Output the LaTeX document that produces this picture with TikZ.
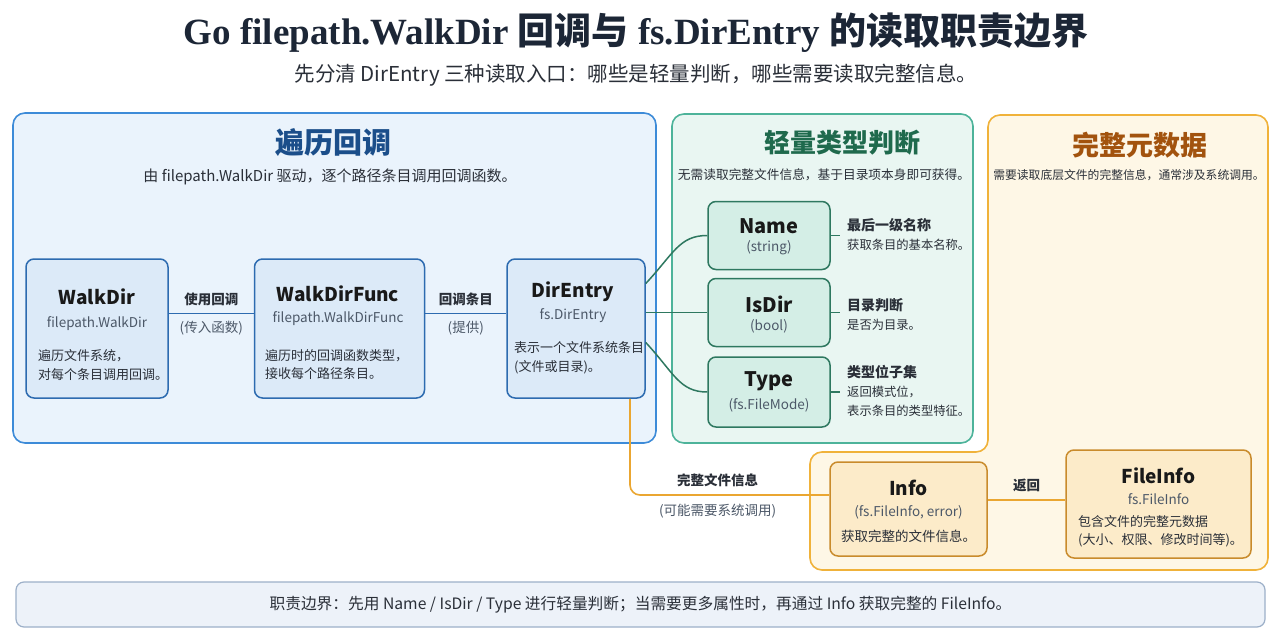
\documentclass[tikz,border=0pt]{standalone}
\usepackage{fontspec}
\setmainfont{Noto Sans CJK SC}
\newfontfamily\titleserif{Liberation Serif}
\usepackage{xcolor}
\usetikzlibrary{positioning,calc}
\definecolor{TitleInk}{HTML}{1C2636}
\definecolor{BodyInk}{HTML}{2A2F38}
\definecolor{CodeGray}{HTML}{4C5868}
\definecolor{WalkFill}{HTML}{EAF3FC}
\definecolor{WalkEdge}{HTML}{3D8BD8}
\definecolor{WalkBox}{HTML}{DCEAF8}
\definecolor{WalkLine}{HTML}{2D6BB0}
\definecolor{WalkHead}{HTML}{1B4E8A}
\definecolor{LightFill}{HTML}{E9F6F2}
\definecolor{LightEdge}{HTML}{4DB39A}
\definecolor{LightBox}{HTML}{D4EEE6}
\definecolor{LightLine}{HTML}{2E7860}
\definecolor{LightHead}{HTML}{1F6A4D}
\definecolor{MetaFill}{HTML}{FEF7E6}
\definecolor{MetaEdge}{HTML}{F0B23A}
\definecolor{MetaBox}{HTML}{FCEBC9}
\definecolor{MetaLine}{HTML}{C98B2C}
\definecolor{MetaWire}{HTML}{EAA631}
\definecolor{MetaHead}{HTML}{A2530E}
\definecolor{NoteFill}{HTML}{EDF2F9}
\definecolor{NoteEdge}{HTML}{9DB0C9}

\begin{document}
\begin{tikzpicture}[x=1pt,y=-1pt,
  panel/.style={draw,rounded corners=12pt,line width=1.6pt},
  box/.style={draw,rounded corners=8pt,line width=1.5pt,inner sep=0pt},
  walkbox/.style={box,fill=WalkBox,draw=WalkLine,minimum height=139},
  lightbox/.style={box,fill=LightBox,draw=LightLine,minimum width=122,minimum height=68},
  metabox/.style={box,fill=MetaBox,draw=MetaLine},
  panelhead/.style={font=\bfseries\fontsize{27}{31}\selectfont},
  panelsub/.style={font=\fontsize{13}{16}\selectfont,text=BodyInk},
  boxtitle/.style={font=\bfseries\fontsize{19}{23}\selectfont,text=black!90},
  boxcode/.style={font=\fontsize{13.5}{16}\selectfont,text=CodeGray},
  boxnote/.style={font=\fontsize{13}{18.5}\selectfont,text=BodyInk,align=left,anchor=west,inner sep=0pt},
  sidenote/.style={boxnote,font=\fontsize{12.3}{19}\selectfont},
  wirelabel/.style={font=\bfseries\fontsize{13.5}{16}\selectfont,text=BodyInk},
  wirenote/.style={font=\fontsize{13.5}{16}\selectfont,text=CodeGray},
  node distance=85pt
]
  \useasboundingbox[fill=white] (0,0) rectangle (1280,640);

  % title
  \node[text=TitleInk] (title) at (636,33) {\fontsize{37}{42}\selectfont\bfseries
    {\titleserif Go filepath.WalkDir }回调与{\titleserif{} fs.DirEntry }的读取职责边界};
  \node[text=BodyInk,font=\fontsize{20.5}{24}\selectfont] (subtitle) at (636,75)
    {先分清 DirEntry 三种读取入口：哪些是轻量判断，哪些需要读取完整信息。};

  % panels
  \draw[panel,fill=WalkFill,draw=WalkEdge] (13,113) rectangle (656,443);
  \draw[panel,fill=LightFill,draw=LightEdge] (672,114) rectangle (973,443);
  \draw[panel,fill=MetaFill,draw=MetaEdge] (988,115) -- (1268,115) -- (1268,570)
    -- (810,570) -- (810,452) -- (988,452) -- cycle;

  \node[panelhead,text=WalkHead,font=\bfseries\fontsize{29}{33}\selectfont] at (333,143) {遍历回调};
  \node[panelsub,font=\fontsize{15}{18}\selectfont] at (330,177) {由 filepath.WalkDir 驱动，逐个路径条目调用回调函数。};
  \node[panelhead,text=LightHead,font=\bfseries\fontsize{26}{30}\selectfont] at (842,143) {轻量类型判断};
  \node[panelsub,font=\fontsize{12.7}{15}\selectfont] at (824,175) {无需读取完整文件信息，基于目录项本身即可获得。};
  \node[panelhead,text=MetaHead] at (1140,145) {完整元数据};
  \node[panelsub,font=\fontsize{11.8}{15}\selectfont] at (1129,175) {需要读取底层文件的完整信息，通常涉及系统调用。};

  % walk chain
  \node[walkbox,minimum width=142] (walkdir) at (97,328.5) {};
  \node[walkbox,minimum width=170,right=85pt of walkdir] (walkfunc) {};
  \node[walkbox,minimum width=138,right=81pt of walkfunc] (dirent) {};

  \node[boxtitle] at (97,297) {WalkDir};
  \node[boxcode] at (97,324) {filepath.WalkDir};
  \node[boxnote] at (38,365) {遍历文件系统，\\对每个条目调用回调。};
  \node[boxtitle] at (338,294) {WalkDirFunc};
  \node[boxcode] at (338,319) {filepath.WalkDirFunc};
  \node[boxnote] at (265,364.5) {遍历时的回调函数类型，\\接收每个路径条目。};
  \node[boxtitle] at (573,292) {DirEntry};
  \node[boxcode] at (573,316) {fs.DirEntry};
  \node[boxnote] at (514,358) {表示一个文件系统条目\\(文件或目录)。};

  \draw[WalkLine,line width=1.5pt] ([yshift=15]walkdir.east) -- ([yshift=15]walkfunc.west)
    node[midway,above=4pt,wirelabel] {使用回调}
    node[midway,below=4pt,wirenote] {(传入函数)};
  \draw[WalkLine,line width=1.5pt] ([yshift=15]walkfunc.east) -- ([yshift=15]dirent.west)
    node[midway,above=4pt,wirelabel] {回调条目}
    node[midway,below=4pt,wirenote] {(提供)};

  % light accessors
  \node[lightbox] (name) at (769,235.5) {};
  \node[lightbox] (isdir) at (769,312.5) {};
  \node[lightbox,minimum height=70] (ftype) at (769,392) {};

  \node[boxtitle,font=\bfseries\fontsize{20}{24}\selectfont] at (769,226) {Name};
  \node[boxcode] at (769,248) {(string)};
  \node[boxtitle,font=\bfseries\fontsize{20}{24}\selectfont] at (769,304) {IsDir};
  \node[boxcode] at (769,326) {(bool)};
  \node[boxtitle,font=\bfseries\fontsize{20}{24}\selectfont] at (769,381) {Type};
  \node[boxcode] at (769,405) {(fs.FileMode)};

  \node[sidenote] (namenote) at (847,234) {{\bfseries\fontsize{14}{19}\selectfont 最后一级名称}\\获取条目的基本名称。};
  \node[sidenote] (isdirnote) at (847,314) {{\bfseries\fontsize{14}{19}\selectfont 目录判断}\\是否为目录。};
  \node[sidenote] (typenote) at (847,391) {{\bfseries\fontsize{14}{19}\selectfont 类型位子集}\\返回模式位，\\表示条目的类型特征。};

  \foreach \n in {name,isdir,ftype}
    \draw[LightLine,line width=1.5pt] (\n.east) -- ++(9,0);

  \draw[LightLine,line width=1.5pt] ([yshift=45]dirent.east)
    .. controls +(28,-30) and +(-28,0) .. (name.west);
  \draw[LightLine,line width=1.5pt] ([yshift=16]dirent.east) -- (isdir.west);
  \draw[LightLine,line width=1.5pt] ([yshift=-14]dirent.east)
    .. controls +(28,30) and +(-28,0) .. (ftype.west);

  % full metadata
  \node[metabox,minimum width=157,minimum height=94] (info) at (908.5,509) {};
  \node[metabox,minimum width=185,minimum height=108] (fileinfo) at (1158.5,504) {};

  \node[boxtitle] at (908.5,488) {Info};
  \node[boxcode] at (908.5,512) {(fs.FileInfo, error)};
  \node[boxnote,anchor=center,font=\fontsize{13.5}{18}\selectfont] at (908.5,536) {获取完整的文件信息。};
  \node[boxtitle] at (1158.5,476) {FileInfo};
  \node[boxcode] at (1158.5,499) {fs.FileInfo};
  \node[boxnote] at (1078,531) {包含文件的完整元数据\\(大小、权限、修改时间等)。};

  \draw[MetaWire,line width=1.6pt,rounded corners=10pt] ([xshift=54]dirent.south)
    |- ([yshift=14]info.west)
    node[pos=0.72,above=4pt,wirelabel] {完整文件信息}
    node[pos=0.72,below=5pt,wirenote] {(可能需要系统调用)};
  \draw[MetaWire,line width=1.6pt] ([yshift=9]info.east) -- ([yshift=9]info.east -| fileinfo.west)
    node[midway,above=4pt,wirelabel] {返回};

  % footer
  \node[draw=NoteEdge,fill=NoteFill,line width=1.2pt,rounded corners=8pt,
    minimum width=1249,minimum height=45,font=\fontsize{15.7}{18}\selectfont,text=BodyInk]
    (boundary) at (640.5,604.5)
    {职责边界：先用 Name / IsDir / Type 进行轻量判断；当需要更多属性时，再通过 Info 获取完整的 FileInfo。};
\end{tikzpicture}
\end{document}
